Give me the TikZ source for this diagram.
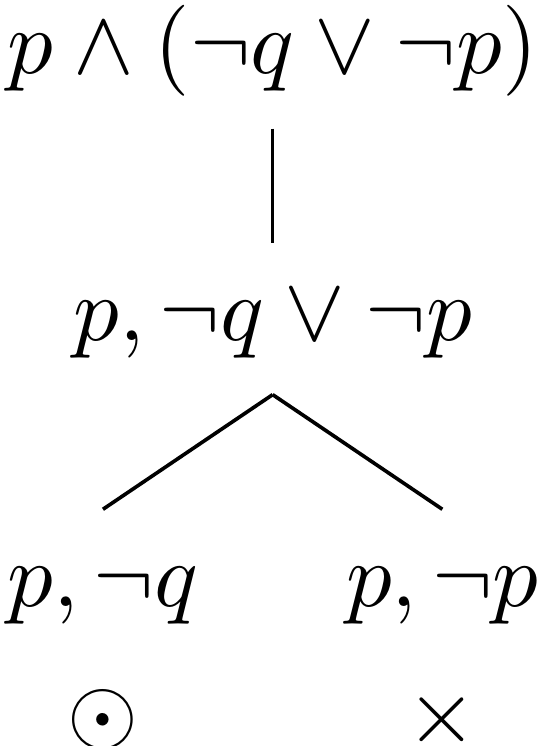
\documentclass[tikz,border=0pt]{standalone}
\usepackage{amsmath}
\usepackage{amssymb}
\usetikzlibrary{positioning}

\begin{document}
\begin{tikzpicture}[tnode/.style={text height=7.45pt,text depth=2.8pt,inner xsep=0pt,inner ysep=3pt}]
    \useasboundingbox (-29.97pt,8.13pt) rectangle ++(59.1pt,-82pt);

    \node[tnode,text height=5pt,anchor=base] (r) at (0,0) {$p \wedge (\neg q \vee \neg p)$};
    \node[tnode,below=12.6pt of r] (m) {$p, \neg q \vee \neg p$};
    \node[tnode,below=12.6pt of m,xshift=-18.65pt] (lc) {$p, \neg q$};
    \node[tnode,below=12.6pt of m,xshift=18.65pt] (rc) {$p, \neg p$};
    \node[tnode,below=-1.7pt of lc] (lo) {$\odot$};
    \node[tnode,below=-1.7pt of rc] (rx) {$\times$};

    \draw (r) -- (m);
    \draw (m.south) -- (lc.north);
    \draw (m.south) -- (rc.north);
  \end{tikzpicture}
\end{document}
